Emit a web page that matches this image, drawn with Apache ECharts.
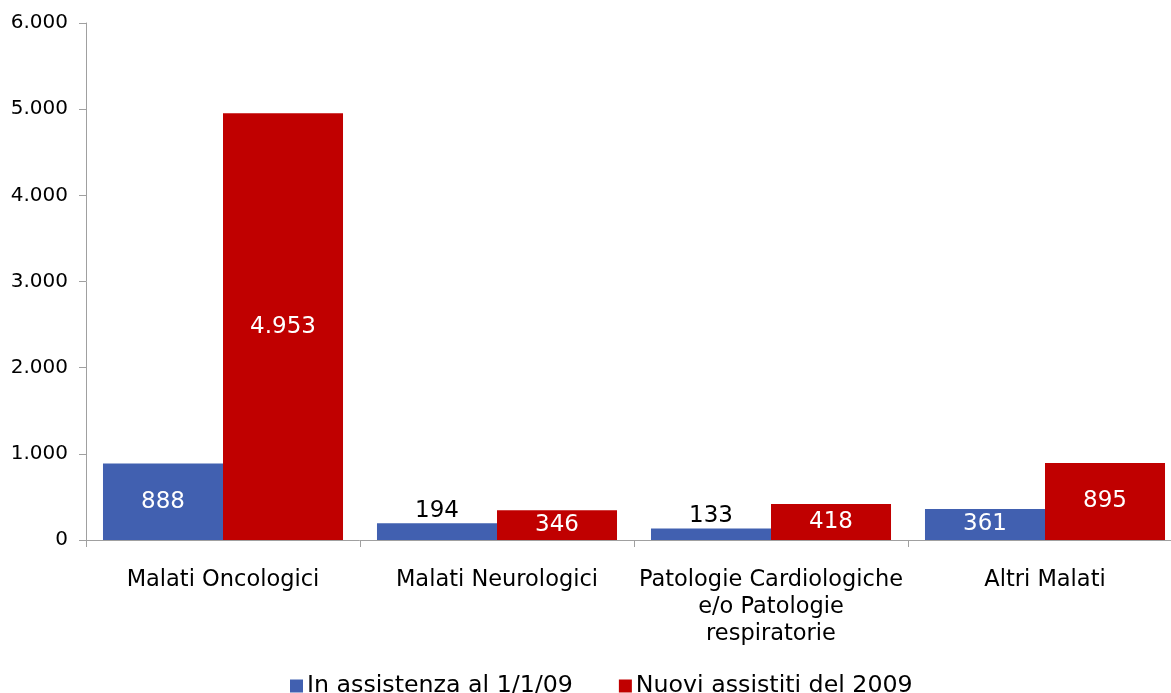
<!DOCTYPE html>
<html>
<head>
<meta charset="utf-8">
<script src="https://cdn.jsdelivr.net/npm/echarts@6/dist/echarts.min.js"></script>
<style>
  html, body { margin: 0; padding: 0; background: #fff; overflow: hidden; }
  #chart { width: 1182px; height: 693px; }
</style>
</head>
<body>
<div id="chart"></div>
<script>
// Patients by pathology: already in care at 1/1/09 vs. newly assisted in 2009
const categories = [
  'Malati Oncologici',
  'Malati Neurologici',
  'Patologie Cardiologiche\ne/o Patologie\nrespiratorie',
  'Altri Malati'
];
const seriesNames = ['In assistenza al 1/1/09', 'Nuovi assistiti del 2009'];
const inAssistenza = [888, 194, 133, 361];
const nuoviAssistiti = [4953, 346, 418, 895];
const yTicks = [0, 1000, 2000, 3000, 4000, 5000, 6000];

const FONT = 'DejaVu Sans';
const fmt = v => String(v).replace(/\B(?=(\d{3})+(?!\d))/g, '.');

// Short bars get their label above the bar in dark text
const SMALL = 300;
function barData(values) {
  return values.map(v => {
    const outside = v < SMALL;
    return {
      value: v,
      label: {
        position: outside ? 'top' : 'inside',
        color: outside ? '#000' : '#fff',
        distance: 1
      }
    };
  });
}

const chart = echarts.init(document.getElementById('chart'), null, { renderer: 'canvas' });
chart.setOption({
  animation: false,
  color: ['#4160B0', '#C00000'],
  grid: { left: 86, top: 23, right: 0, bottom: 153, containLabel: false },
  legend: {
    bottom: -10,
    left: 285,
    itemWidth: 13,
    itemHeight: 13,
    itemGap: 46,
    icon: 'rect',
    textStyle: { fontFamily: FONT, fontSize: 23.7, color: '#000', padding: [0, 0, 0, -1] },
    data: seriesNames
  },
  xAxis: {
    type: 'category',
    data: categories,
    axisLine: { lineStyle: { color: '#A0A0A0', width: 1 } },
    axisTick: { show: true, length: 7, lineStyle: { color: '#A0A0A0' } },
    axisLabel: {
      fontFamily: FONT, fontSize: 22.5, color: '#000',
      margin: 27, lineHeight: 27, interval: 0
    },
    splitLine: { show: false }
  },
  yAxis: {
    type: 'value',
    min: yTicks[0],
    max: yTicks[yTicks.length - 1],
    interval: yTicks[1] - yTicks[0],
    axisLine: { show: true, lineStyle: { color: '#A0A0A0', width: 1 } },
    axisTick: { show: true, length: 7, lineStyle: { color: '#A0A0A0' } },
    axisLabel: {
      fontFamily: FONT, fontSize: 20, color: '#000', margin: 18,
      formatter: v => fmt(v)
    },
    splitLine: { show: false }
  },
  series: [
    {
      name: seriesNames[0],
      type: 'bar',
      data: barData(inAssistenza),
      barGap: '0%',
      barCategoryGap: '12.4%',
      label: {
        show: true, fontFamily: FONT, fontSize: 23,
        formatter: p => fmt(p.value)
      }
    },
    {
      name: seriesNames[1],
      type: 'bar',
      data: barData(nuoviAssistiti),
      barGap: '0%',
      barCategoryGap: '12.4%',
      label: {
        show: true, fontFamily: FONT, fontSize: 23,
        formatter: p => fmt(p.value)
      }
    }
  ]
});
</script>
</body>
</html>
